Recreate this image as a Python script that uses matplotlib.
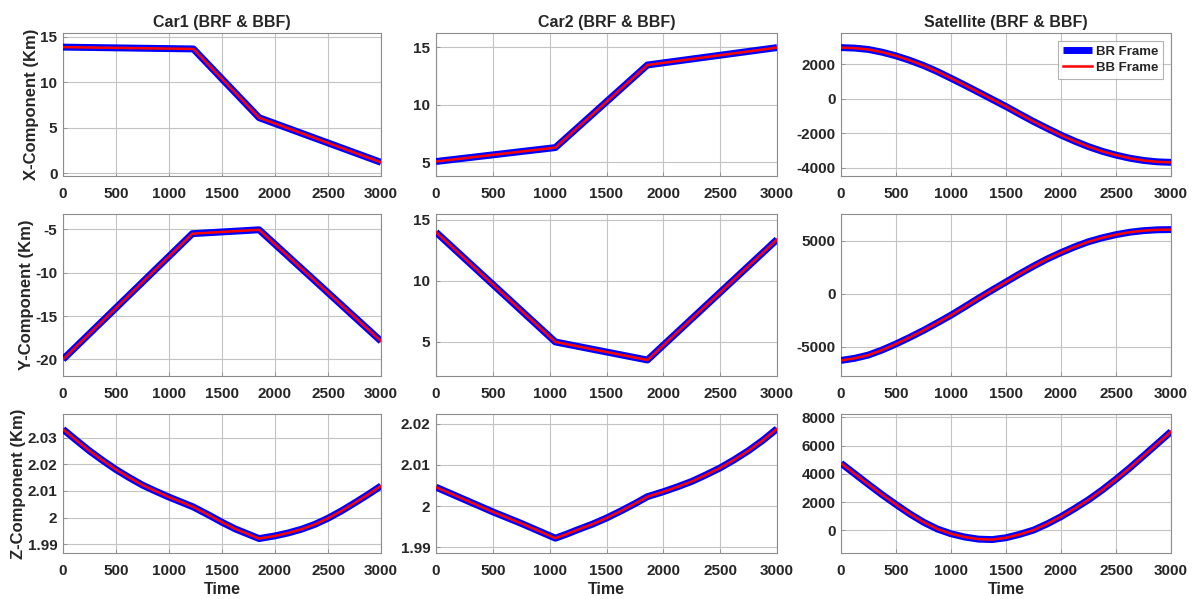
import matplotlib
matplotlib.use("Agg")
import matplotlib.pyplot as plt
from matplotlib.ticker import FuncFormatter

# ---------------- data ----------------
# Car1 (piecewise linear in X / Y)
car1_t = [0, 1230, 1850, 3000]
car1_x = [13.85, 13.65, 6.1, 1.2]
car1_yt = [0, 1220, 1850, 3000]
car1_y = [-20.0, -5.5, -5.05, -17.9]
car1_zt = [0, 125, 250, 375, 500, 625, 750, 875, 1000, 1125, 1230, 1375, 1500, 1625,
           1750, 1850, 2000, 2125, 2250, 2375, 2500, 2625, 2750, 2875, 3000]
car1_z = [2.0331, 2.0290, 2.0250, 2.0214, 2.0180, 2.0150, 2.0122, 2.0099, 2.0077,
          2.0057, 2.0040, 2.0010, 1.9983, 1.9958, 1.9938, 1.9922, 1.9932, 1.9943,
          1.9957, 1.9975, 1.9998, 2.0025, 2.0055, 2.0086, 2.0119]

# Car2
car2_t = [0, 1050, 1860, 3000]
car2_x = [5.07, 6.28, 13.46, 14.97]
car2_y = [14.0, 5.0, 3.52, 13.4]
car2_zt = [0, 125, 250, 375, 500, 625, 750, 900, 1050, 1150, 1250, 1375, 1500, 1625,
           1750, 1860, 2000, 2125, 2250, 2375, 2500, 2625, 2750, 2875, 3000]
car2_z = [2.0046, 2.0031, 2.0016, 2.0001, 1.9986, 1.9972, 1.9958, 1.9940, 1.9922,
          1.9932, 1.9943, 1.9956, 1.9971, 1.9988, 2.0006, 2.0023, 2.0035, 2.0047,
          2.0060, 2.0076, 2.0093, 2.0113, 2.0135, 2.0160, 2.0188]

# Satellite
sat_t = [0, 125, 250, 375, 500, 625, 750, 875, 1000, 1125, 1250, 1375, 1500,
         1625, 1750, 1875, 2000, 2125, 2250, 2375, 2500, 2625, 2750, 2875, 3000]
sat_x = [2968, 2940, 2860, 2700, 2490, 2230, 1930, 1580, 1190, 790, 380, -35, -450,
         -890, -1320, -1720, -2110, -2460, -2780, -3050, -3270, -3450, -3580, -3660, -3690]
sat_y = [-6300, -6100, -5790, -5310, -4740, -4120, -3460, -2750, -2020, -1230, -420,
         360, 1120, 1890, 2620, 3300, 3900, 4450, 4930, 5300, 5600, 5830, 5980, 6060, 6080]
sat_z = [4750, 4000, 3250, 2520, 1830, 1170, 580, 100, -240, -470, -620, -650, -520,
         -280, 20, 460, 970, 1550, 2165, 2860, 3620, 4420, 5270, 6130, 6990]

titles = ["Car1 (BRF & BBF)", "Car2 (BRF & BBF)", "Satellite (BRF & BBF)"]
ylabels = ["X-Component (Km)", "Y-Component (Km)", "Z-Component (Km)"]
xlabel = "Time"
legend_labels = ["BR Frame", "BB Frame"]
xticks = [0, 500, 1000, 1500, 2000, 2500, 3000]

panels = [
    # row 0
    [(car1_t, car1_x, (-0.3, 15.4), [0, 5, 10, 15]),
     (car2_t, car2_x, (3.81, 16.24), [5, 10, 15]),
     (sat_t, sat_x, (-4482, 3816), [-4000, -2000, 0, 2000])],
    # row 1
    [(car1_yt, car1_y, (-21.92, -3.23), [-20, -15, -10, -5]),
     (car2_t, car2_y, (2.21, 15.49), [5, 10, 15]),
     (sat_t, sat_y, (-7776, 7555), [-5000, 0, 5000])],
    # row 2
    [(car1_zt, car1_z, (1.9868, 2.0388), [1.99, 2.0, 2.01, 2.02, 2.03]),
     (car2_zt, car2_z, (1.9886, 2.0224), [1.99, 2.0, 2.01, 2.02]),
     (sat_t, sat_z, (-1600, 8235), [0, 2000, 4000, 6000, 8000])],
]

# ---------------- layout ----------------
W, H = 1194, 599
col_lr = [(63, 381), (436, 777), (841, 1171)]
row_tb = [(33, 176), (214, 376), (414, 553)]

txt = "#262626"
plt.rcParams["font.family"] = ["Liberation Sans", "DejaVu Sans"]
plt.rcParams["font.weight"] = "bold"

fig = plt.figure(figsize=(W / 100, H / 100), dpi=100)

gfmt = FuncFormatter(lambda v, p: ("%g" % round(v, 6)))

for r in range(3):
    for c in range(3):
        l, rr = col_lr[c]
        t, b = row_tb[r]
        ax = fig.add_axes([l / W, 1 - b / H, (rr - l) / W, (b - t) / H])
        tt, vv, ylim, yt = panels[r][c]
        ax.plot(tt, vv, color="#0000ff", lw=5.0, solid_joinstyle="round",
                solid_capstyle="butt", label=legend_labels[0], zorder=3)
        ax.plot(tt, vv, color="#ff0000", lw=1.8, solid_joinstyle="round",
                label=legend_labels[1], zorder=4)
        ax.set_xlim(0, 3000)
        ax.set_ylim(*ylim)
        ax.set_xticks(xticks)
        ax.set_yticks(yt)
        ax.yaxis.set_major_formatter(gfmt)
        ax.grid(True, color="#c4c4c4", lw=0.8)
        ax.set_axisbelow(True)
        for s in ax.spines.values():
            s.set_color("#8c8c8c")
            s.set_linewidth(0.8)
        ax.tick_params(direction="in", length=3, width=0.6, color="#8c8c8c",
                       labelsize=11, labelcolor=txt)
        ax.tick_params(axis="x", pad=8)
        ax.tick_params(axis="y", pad=4)
        for lab in ax.get_xticklabels() + ax.get_yticklabels():
            lab.set_fontweight("bold")
        if r == 0:
            ax.set_title(titles[c], fontsize=11.5, fontweight="bold", color=txt, pad=4)
        if c == 0:
            ax.set_ylabel(ylabels[r], fontsize=12, fontweight="bold", color=txt, labelpad=1)
        if r == 2:
            ax.set_xlabel(xlabel, fontsize=11.5, fontweight="bold", color=txt, labelpad=3)
        if r == 0 and c == 2:
            leg = ax.legend(loc="upper right", prop={"weight": "bold", "size": 9.5},
                            frameon=True, fancybox=False, handlelength=2.2,
                            borderpad=0.35, labelspacing=0.3, handletextpad=0.3,
                            borderaxespad=0.6)
            leg.get_frame().set_edgecolor("#a0a0a0")
            leg.get_frame().set_linewidth(0.8)
            for tx in leg.get_texts():
                tx.set_color(txt)

fig.savefig("out.png", dpi=100)
